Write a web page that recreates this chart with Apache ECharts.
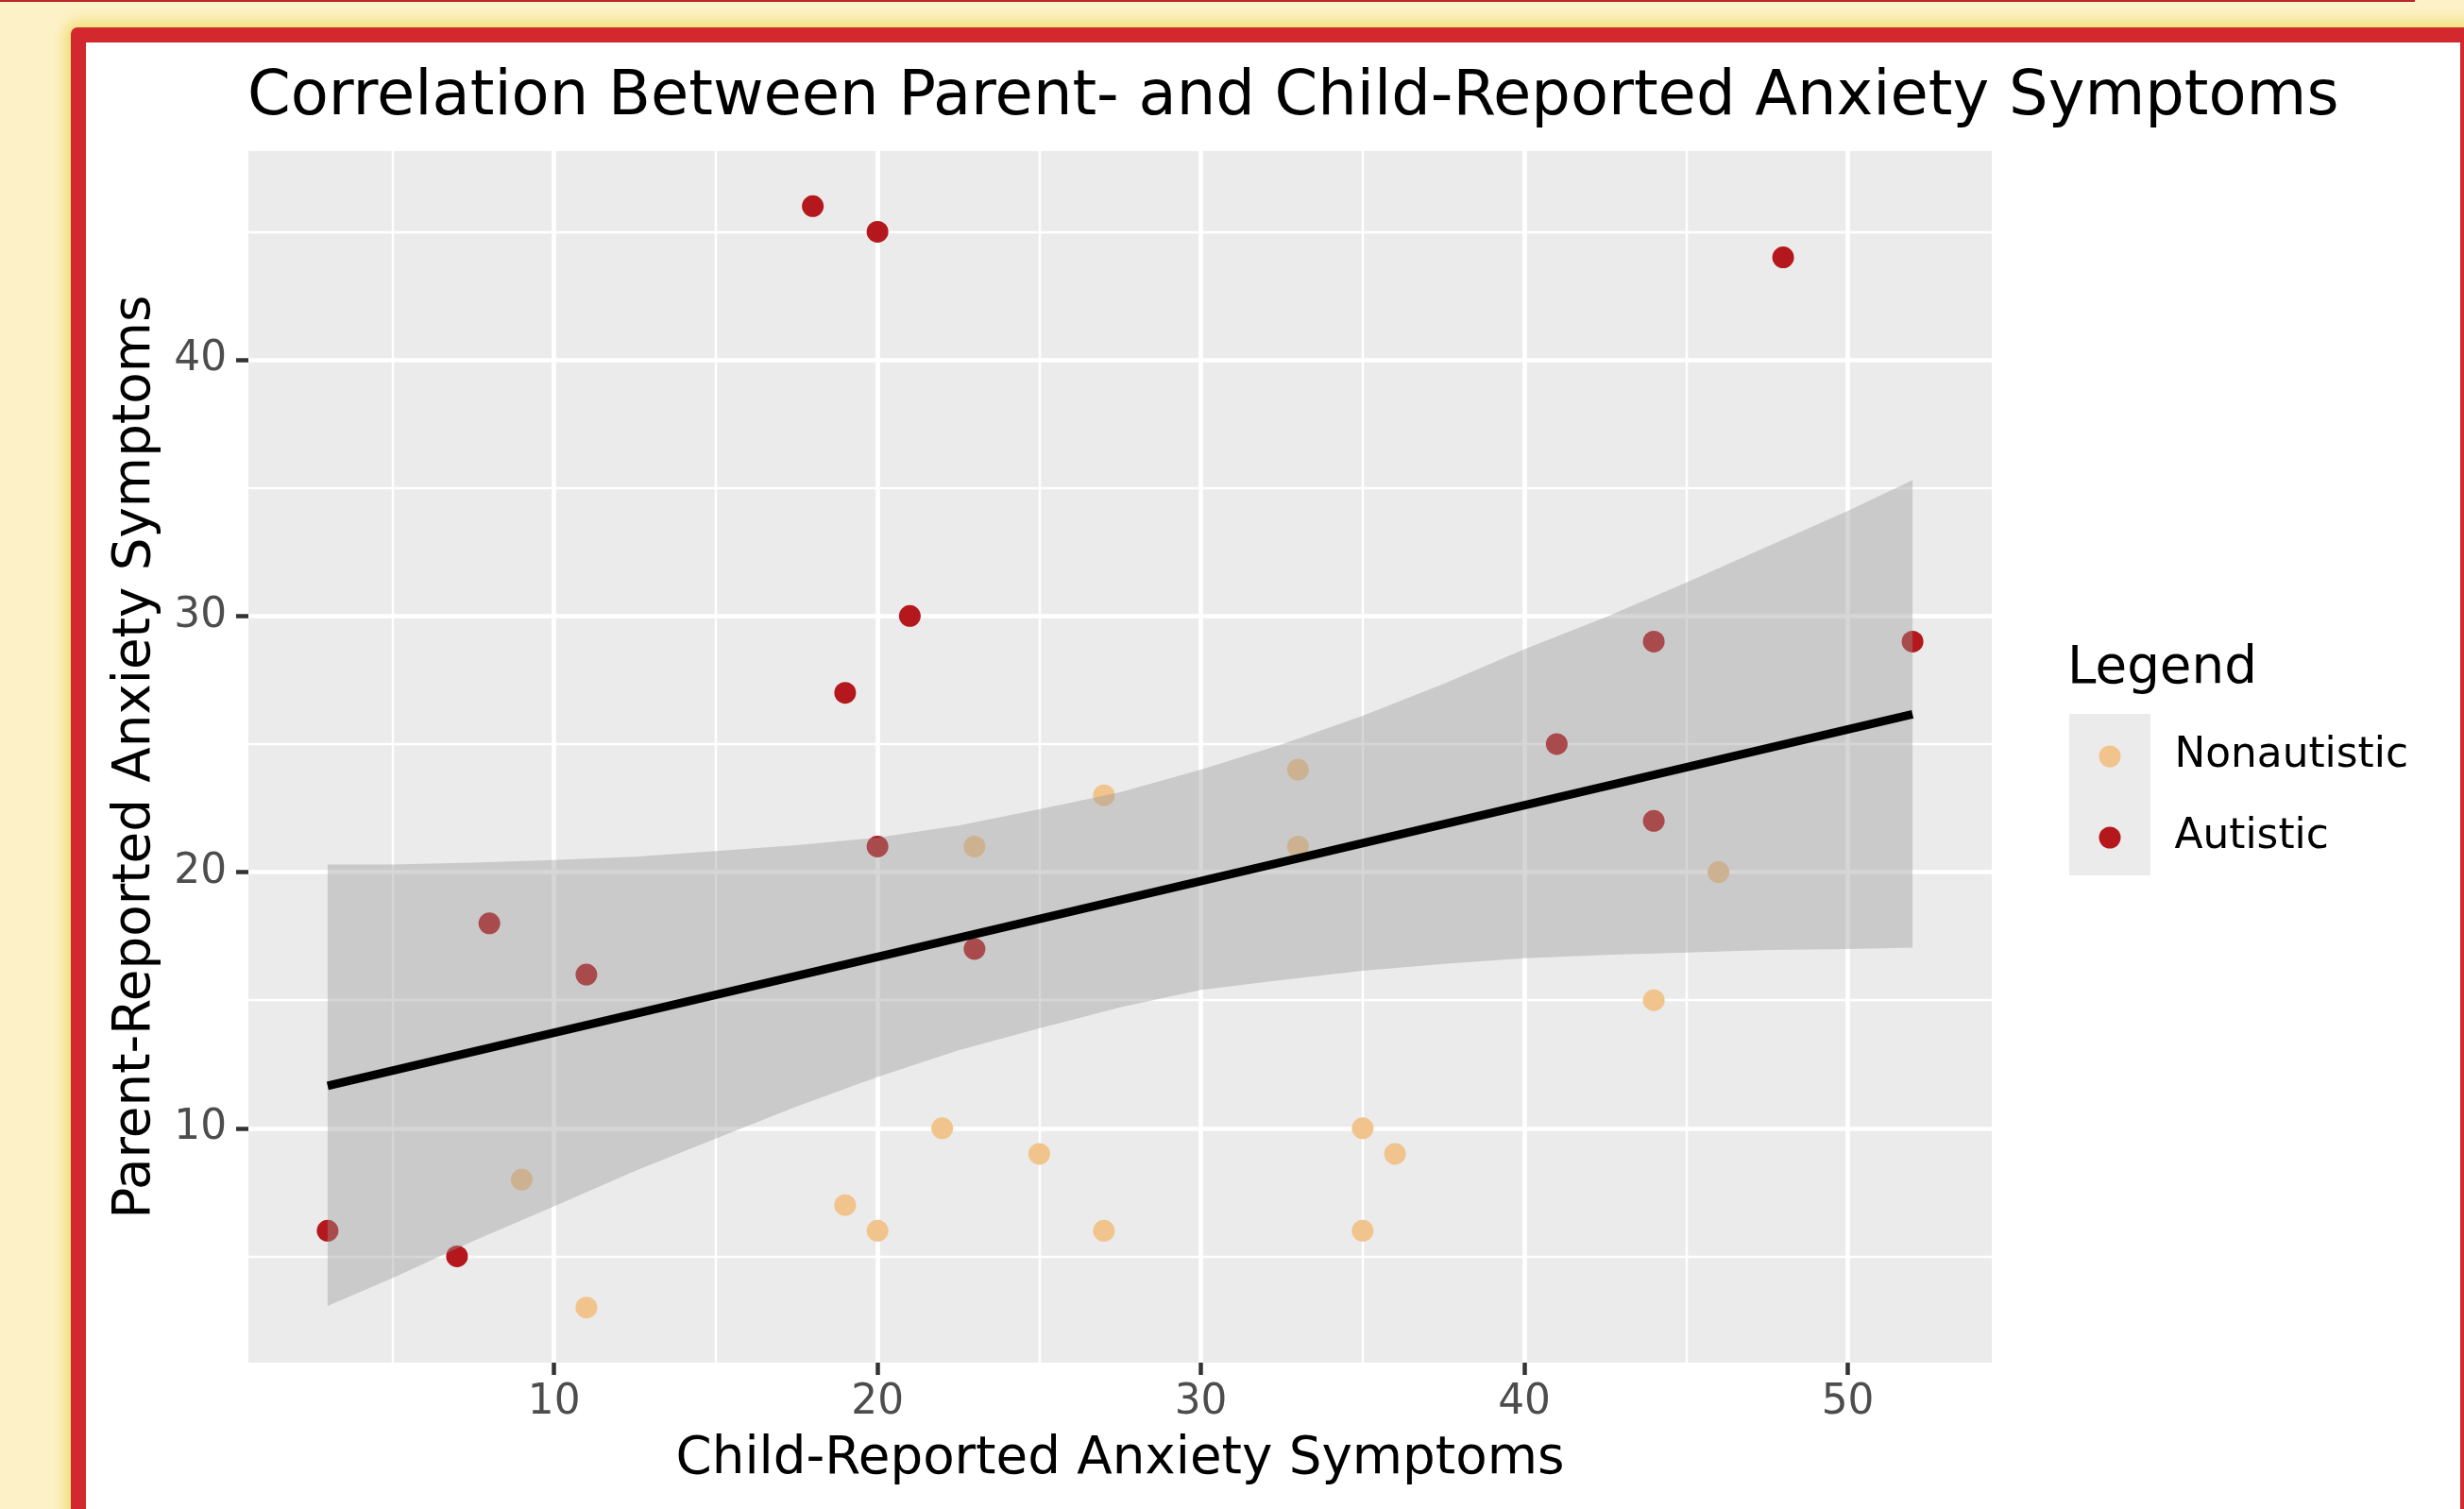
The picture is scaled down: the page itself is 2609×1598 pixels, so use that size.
<!DOCTYPE html>
<html><head><meta charset="utf-8">
<script src="https://cdn.jsdelivr.net/npm/echarts@6/dist/echarts.min.js"></script>
<style>
html,body{margin:0;padding:0;width:2609px;height:1598px;overflow:hidden;background:#FDF1C8;}
#topline{position:absolute;left:0;top:0;width:2557px;height:2px;background:#B8262B;}
#card{position:absolute;left:75px;top:29px;width:2546px;height:1700px;box-sizing:border-box;border:16px solid #D2282E;border-radius:7px;background:#fff;box-shadow:0 0 16px 5px #ECDD66;}
#chart{position:absolute;left:91px;top:45px;width:2514px;height:1553px;}
</style></head><body>
<div id="topline"></div><div id="card"></div><div id="chart"></div>
<script>
// ---- data ----
const nonautisticX = [9, 11, 19, 20, 22, 25, 27, 23, 27, 33, 33, 35, 36, 35, 44, 46];
const nonautisticY = [8, 3, 7, 6, 10, 9, 6, 21, 23, 24, 21, 10, 9, 6, 15, 20];
const autisticX = [18, 20, 48, 21, 19, 20, 23, 8, 11, 3, 7, 41, 44, 52, 44];
const autisticY = [46, 45, 44, 30, 27, 21, 17, 18, 16, 6, 5, 25, 29, 29, 22];
const fitX = [3, 52];
const fitY = [11.66, 26.16];
const bandX = [3, 5, 7.5, 10, 12.5, 15, 17.5, 20, 22.5, 25, 27.5, 30, 32.5, 35, 37.5, 40, 42.5, 45, 47.5, 50, 52];
const bandUpper = [20.3, 20.3, 20.37, 20.47, 20.6, 20.82, 21.05, 21.35, 21.82, 22.45, 23.12, 24.0, 24.99, 26.1, 27.35, 28.7, 29.95, 31.3, 32.7, 34.1, 35.3];
const bandLower = [3.06, 4.15, 5.6, 6.95, 8.33, 9.6, 10.85, 12.0, 13.04, 13.9, 14.72, 15.4, 15.79, 16.15, 16.42, 16.64, 16.77, 16.86, 16.96, 17.0, 17.05];
const xTicks = [10, 20, 30, 40, 50];
const xMinorTicks = [5, 15, 25, 35, 45];
const yTicks = [10, 20, 30, 40];
const yMinorTicks = [5, 15, 25, 35, 45];
const seriesNames = ['Nonautistic', 'Autistic'];

const FONT = '"DejaVu Sans", "Liberation Sans", sans-serif';
const chart = echarts.init(document.getElementById('chart'), null, {renderer: 'canvas'});

const gridLine = (w) => ({color: '#FFFFFF', width: w, type: 'solid'});

const option = {
  animation: false,
  backgroundColor: '#FFFFFF',
  title: {
    text: 'Correlation Between Parent- and Child-Reported Anxiety Symptoms',
    left: 171, top: 26, padding: 0,
    textStyle: {fontFamily: FONT, fontSize: 65.5, fontWeight: 'normal', color: '#000000', lineHeight: 66}
  },
  grid: {
    left: 172, top: 115, width: 1846, height: 1283,
    show: true, backgroundColor: '#EBEBEB', borderWidth: 0
  },
  xAxis: {
    type: 'value', min: 0.55, max: 54.45,
    name: 'Child-Reported Anxiety Symptoms', nameLocation: 'middle', nameGap: 75,
    nameTextStyle: {fontFamily: FONT, fontSize: 54.7, color: '#000000', lineHeight: 56},
    axisLine: {show: false},
    axisTick: {show: true, customValues: xTicks, length: 13, lineStyle: {color: '#333333', width: 4.5}},
    axisLabel: {show: true, customValues: xTicks, margin: 20, fontFamily: FONT, fontSize: 43.8, color: '#4D4D4D', lineHeight: 45},
    splitLine: {show: false}
  },
  yAxis: {
    type: 'value', min: 0.85, max: 48.15,
    name: 'Parent-Reported Anxiety Symptoms', nameLocation: 'middle', nameGap: 91,
    nameTextStyle: {fontFamily: FONT, fontSize: 54.7, color: '#000000', lineHeight: 56},
    axisLine: {show: false},
    axisTick: {show: true, customValues: yTicks, length: 13, lineStyle: {color: '#333333', width: 4.5}},
    axisLabel: {show: true, customValues: yTicks, margin: 23, fontFamily: FONT, fontSize: 43.8, color: '#4D4D4D', lineHeight: 45},
    splitLine: {show: false}
  },
  legend: {
    data: seriesNames, orient: 'vertical', left: 2131.5, top: 733.5, padding: 0,
    itemWidth: 23, itemHeight: 23, itemGap: 41, icon: 'circle', selectedMode: false,
    textStyle: {fontFamily: FONT, fontSize: 43.8, color: '#000000', lineHeight: 45, padding: [0, 0, 0, 52]}
  },
  graphic: [
    {type: 'rect', left: 2100, top: 711, z: -1, silent: true, shape: {width: 86, height: 171}, style: {fill: '#EBEBEB'}},
    {type: 'text', left: 2098, top: 636, silent: true, style: {text: 'Legend', font: '54.7px "DejaVu Sans", sans-serif', fill: '#000000'}}
  ],
  series: [
    {
      type: 'line', name: 'grid', data: [], silent: true, z: 1,
      markLine: {
        silent: true, z: 1, animation: false, symbol: ['none', 'none'], label: {show: false},
        emphasis: {disabled: true},
        data: [
          ...xMinorTicks.map(v => ({xAxis: v, lineStyle: gridLine(2.4)})),
          ...yMinorTicks.map(v => ({yAxis: v, lineStyle: gridLine(2.4)})),
          ...xTicks.map(v => ({xAxis: v, lineStyle: gridLine(4.7)})),
          ...yTicks.map(v => ({yAxis: v, lineStyle: gridLine(4.7)}))
        ]
      }
    },
    {
      type: 'scatter', name: seriesNames[0], z: 2, symbol: 'circle', symbolSize: 23,
      data: nonautisticX.map((x, i) => [x, nonautisticY[i]]),
      itemStyle: {color: '#F0C48C', opacity: 1}
    },
    {
      type: 'scatter', name: seriesNames[1], z: 2, symbol: 'circle', symbolSize: 23,
      data: autisticX.map((x, i) => [x, autisticY[i]]),
      itemStyle: {color: '#B4181C', opacity: 1}
    },
    {
      type: 'custom', name: 'band', z: 3, silent: true, clip: true,
      data: bandX.map((x, i) => [x, bandLower[i], bandUpper[i]]),
      encode: {x: 0, y: [1, 2]},
      renderItem: function (params, api) {
        if (params.dataIndex !== 0) return null;
        const up = [], lo = [];
        for (let i = 0; i < bandX.length; i++) {
          up.push(api.coord([bandX[i], bandUpper[i]]));
          lo.push(api.coord([bandX[i], bandLower[i]]));
        }
        return {type: 'polygon', shape: {points: up.concat(lo.reverse())}, style: {fill: 'rgba(153,153,153,0.4)'}};
      }
    },
    {
      type: 'line', name: 'fit', z: 4, silent: true, symbol: 'none',
      data: fitX.map((x, i) => [x, fitY[i]]),
      lineStyle: {color: '#000000', width: 9, cap: 'butt'}
    }
  ]
};
chart.setOption(option);
</script></body></html>
